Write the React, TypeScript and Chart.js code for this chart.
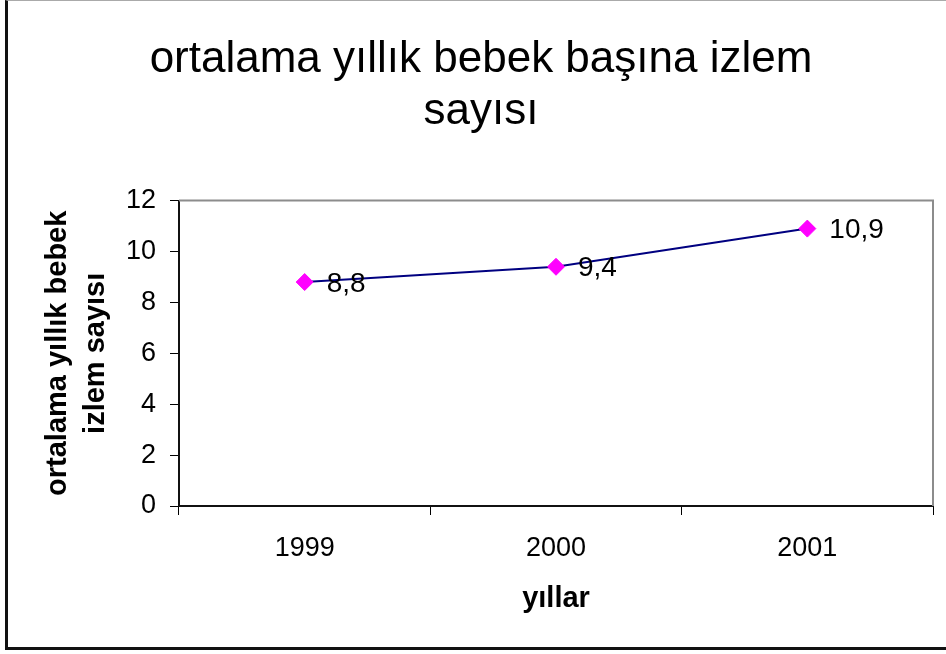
import React, { useEffect, useRef } from 'react';
import { Chart, registerables } from 'chart.js';

Chart.register(...registerables);

const categories: string[] = ['1999', '2000', '2001'];
const values: number[] = [8.8, 9.4, 10.9];
const valueLabels: string[] = ['8,8', '9,4', '10,9'];
const yMin = 0;
const yMax = 12;
const yStep = 2;
const titleLines: string[] = ['ortalama yıllık bebek başına izlem', 'sayısı'];
const yTitleLines: string[] = ['ortalama yıllık bebek', 'izlem sayısı'];
const xTitle = 'yıllar';

const FONT = '"Liberation Sans", Arial, Helvetica, sans-serif';

const plotBorderPlugin = {
  id: 'plotBorder',
  beforeDatasetsDraw(chart: any) {
    const { ctx, chartArea } = chart;
    ctx.save();
    ctx.strokeStyle = '#8c8c8c';
    ctx.lineWidth = 2;
    ctx.beginPath();
    ctx.moveTo(chartArea.left, chartArea.top);
    ctx.lineTo(chartArea.right, chartArea.top);
    ctx.lineTo(chartArea.right, chartArea.bottom);
    ctx.stroke();
    ctx.restore();
  },
};

const valueLabelPlugin = {
  id: 'valueLabels',
  afterDatasetsDraw(chart: any) {
    const meta = chart.getDatasetMeta(0);
    const ctx = chart.ctx;
    ctx.save();
    ctx.font = `28px ${FONT}`;
    ctx.fillStyle = '#000';
    ctx.textAlign = 'left';
    ctx.textBaseline = 'middle';
    meta.data.forEach((pt: any, i: number) => {
      ctx.fillText(valueLabels[i], pt.x + 22, pt.y + 2);
    });
    ctx.restore();
  },
};

export default function App() {
  const canvasRef = useRef<HTMLCanvasElement | null>(null);

  useEffect(() => {
    if (!canvasRef.current) return;
    const chart = new Chart(canvasRef.current, {
      type: 'line',
      data: {
        labels: categories,
        datasets: [
          {
            data: values,
            borderColor: '#000080',
            borderWidth: 2,
            tension: 0,
            fill: false,
            pointStyle: 'rectRot',
            pointRadius: 8.5,
            pointHoverRadius: 8.5,
            pointBackgroundColor: '#FF00FF',
            pointBorderColor: '#FF00FF',
            pointBorderWidth: 1,
          },
        ],
      },
      options: {
        responsive: false,
        animation: false,
        events: [],
        layout: { padding: { left: 29, right: 13, top: 0, bottom: 8 } },
        plugins: {
          legend: { display: false },
          tooltip: { enabled: false },
          title: {
            display: true,
            text: titleLines,
            color: '#000',
            font: { family: FONT, size: 44, weight: 'normal', lineHeight: 1.2 },
            padding: { top: 33, bottom: 62 },
          },
        },
        scales: {
          x: {
            type: 'category',
            offset: true,
            grid: {
              offset: true,
              drawOnChartArea: false,
              drawTicks: true,
              tickLength: 9,
              tickColor: '#000',
              color: '#000',
            },
            border: { display: true, color: '#111', width: 2 },
            ticks: {
              color: '#000',
              padding: 17,
              font: { family: FONT, size: 27 },
              maxRotation: 0,
            },
            title: {
              display: true,
              text: xTitle,
              color: '#000',
              font: { family: FONT, size: 29, weight: 'bold', lineHeight: 1.2 },
              padding: { top: 0, bottom: 30 },
            },
            afterFit(scale: any) {
              scale.height = 140;
            },
          },
          y: {
            type: 'linear',
            min: yMin,
            max: yMax,
            grid: {
              drawOnChartArea: false,
              drawTicks: true,
              tickLength: 9,
              tickColor: '#000',
              color: '#000',
            },
            border: { display: true, color: '#111', width: 2 },
            ticks: {
              stepSize: yStep,
              color: '#000',
              padding: 14,
              font: { family: FONT, size: 27 },
            },
            title: {
              display: true,
              text: yTitleLines,
              color: '#000',
              font: { family: FONT, size: 29, weight: 'bold', lineHeight: 1.3 },
              padding: { top: 10, bottom: 0 },
            },
            afterFit(scale: any) {
              scale.width = 150;
            },
          },
        },
      },
      plugins: [plotBorderPlugin, valueLabelPlugin],
    });
    return () => chart.destroy();
  }, []);

  return (
    <div
      style={{
        position: 'absolute',
        left: 0,
        top: 0,
        width: 946,
        height: 654,
        overflow: 'hidden',
        background: '#fff',
      }}
    >
      <div
        style={{
          position: 'absolute',
          left: 5,
          top: 0,
          width: 980,
          height: 650,
          boxSizing: 'border-box',
          borderTop: '1px solid #aaa',
          borderLeft: '3px solid #111',
          borderBottom: '3px solid #111',
        }}
      />
      <canvas
        ref={canvasRef}
        width={946}
        height={654}
        style={{ position: 'absolute', left: 0, top: 0 }}
      />
    </div>
  );
}
